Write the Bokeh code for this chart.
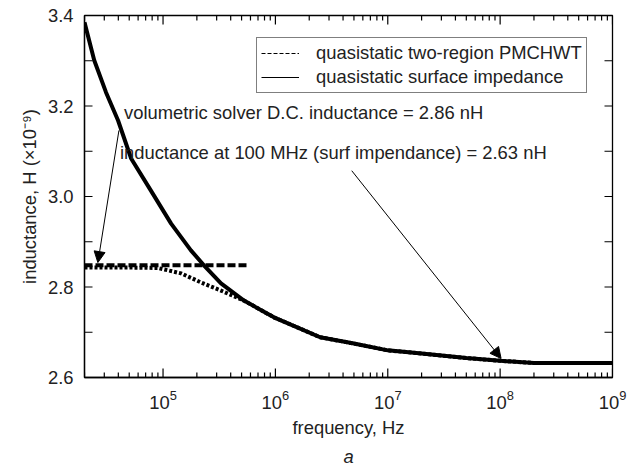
from bokeh.plotting import figure
from bokeh.models import (FixedTicker, PrintfTickFormatter, Legend, LegendItem, Label,
                          Arrow, NormalHead, Title)
from bokeh.embed import file_html
from bokeh.resources import INLINE

FONT = "Liberation Sans"
FS = "18.4px"
TXT = "#222222"

# surface impedance curve (solid)
surf_f = [2.0e4, 2.44e4, 3.11e4, 3.98e4, 5.2e4, 7.8e4, 1.18e5, 1.77e5, 2.31e5, 3.28e5,
          5.25e5, 9.7e5, 2.5e6, 5.0e6, 1.0e7, 2.0e7, 5.0e7, 1.0e8, 2.0e8, 1.0e9]
surf_L = [3.385, 3.301, 3.230, 3.168, 3.084, 3.013, 2.940, 2.881, 2.848, 2.808,
          2.770, 2.733, 2.689, 2.675, 2.660, 2.653, 2.643, 2.637, 2.632, 2.632]

# two-region PMCHWT curve (dotted)
pmc_f = [2.0e4, 5.0e4, 9.0e4, 1.45e5, 2.18e5, 3.28e5, 5.25e5, 9.7e5, 2.5e6, 5.0e6,
         1.0e7, 2.0e7, 5.0e7, 1.0e8, 2.0e8, 1.0e9]
pmc_L = [2.843, 2.843, 2.842, 2.830, 2.810, 2.792, 2.770, 2.733, 2.689, 2.675,
         2.660, 2.653, 2.643, 2.637, 2.632, 2.632]

# volumetric solver DC level (dashed)
dc_f = [2.0e4, 5.7e5]
dc_L = [2.848, 2.848]

legend_labels = ["quasistatic two-region PMCHWT", "quasistatic surface impedance"]
x_range = (2e4, 1e9)
y_range = (2.6, 3.4)
x_major = [1e5, 1e6, 1e7, 1e8, 1e9]
x_minor = [m * 10 ** e for e in range(4, 9) for m in range(2, 10)
           if x_range[0] <= m * 10 ** e < x_range[1]]
y_major = [2.6, 2.8, 3.0, 3.2, 3.4]
y_minor = [2.7, 2.9, 3.1, 3.3]

W, H = 640, 470
BL, BR, BT, BB = 84, 28, 15, 93
p = figure(width=W, height=H, x_axis_type="log", x_range=x_range, y_range=y_range,
           output_backend="svg", toolbar_location=None,
           min_border_left=BL, min_border_right=BR, min_border_top=BT, min_border_bottom=BB)
p.grid.visible = False
p.outline_line_color = "black"
p.outline_line_width = 1.3

# legend proxies (thin), hidden beneath the thick curve
r1 = p.line(surf_f, surf_L, line_color="black", line_width=1, line_dash="4 2")
r2 = p.line(surf_f, surf_L, line_color="black", line_width=1)

p.line(pmc_f, pmc_L, line_color="black", line_width=4, line_dash="3 2")
p.line(dc_f, dc_L, line_color="black", line_width=4, line_dash="8 3")
p.line(surf_f, surf_L, line_color="black", line_width=4)

leg = Legend(items=[LegendItem(label=legend_labels[0], renderers=[r1]),
                    LegendItem(label=legend_labels[1], renderers=[r2])],
             location=(172, 284), label_text_font=FONT, label_text_font_size=FS,
             label_text_color=TXT,
             border_line_color="black", border_line_width=1, padding=4, spacing=2,
             glyph_width=38, glyph_height=22, label_height=22, label_standoff=17,
             margin=0, background_fill_alpha=1)
p.add_layout(leg)

# inward ticks on all four sides (tick lengths converted from pixels to data units)
frame_w = W - BL - BR
frame_h = H - BT - BB
px_per_decade = frame_w / 4.69897
px_per_unit = frame_h / (y_range[1] - y_range[0])

def ticks_x(vals, length_px, y, direction):
    dy = direction * length_px / px_per_unit
    p.segment(x0=vals, y0=[y] * len(vals), x1=vals, y1=[y + dy] * len(vals),
              line_color="black", line_width=1.2)

def ticks_y(vals, length_px, x, direction):
    f = 10 ** (direction * length_px / px_per_decade)
    p.segment(x0=[x] * len(vals), y0=vals, x1=[x * f] * len(vals), y1=vals,
              line_color="black", line_width=1.2)

ticks_x(x_major, 9, y_range[0], 1)
ticks_x(x_minor, 5, y_range[0], 1)
ticks_x(x_major, 9, y_range[1], -1)
ticks_x(x_minor, 5, y_range[1], -1)
ticks_y(y_major, 8, x_range[0], 1)
ticks_y(y_minor, 8, x_range[0], 1)
ticks_y(y_major, 8, x_range[1], -1)
ticks_y(y_minor, 8, x_range[1], -1)

p.yaxis.ticker = FixedTicker(ticks=y_major, minor_ticks=y_minor)
p.yaxis.formatter = PrintfTickFormatter(format="%.1f")
p.xaxis.ticker = FixedTicker(ticks=x_major, minor_ticks=x_minor)
p.yaxis.axis_label = "inductance, H (×10⁻⁹)"
p.xaxis.axis_label = "frequency, Hz"
for ax in (p.xaxis[0], p.yaxis[0]):
    ax.axis_line_color = "black"
    ax.axis_line_width = 1.3
    ax.major_tick_line_color = None
    ax.minor_tick_line_color = None
    ax.major_tick_in = 0
    ax.major_tick_out = 0
    ax.minor_tick_in = 0
    ax.minor_tick_out = 0
    ax.major_label_text_font = FONT
    ax.major_label_text_font_size = FS
    ax.major_label_text_color = TXT
    ax.axis_label_text_font = FONT
    ax.axis_label_text_font_size = FS
    ax.axis_label_text_font_style = "normal"
    ax.axis_label_text_color = TXT
p.yaxis.major_label_standoff = 11
p.yaxis.axis_label_standoff = 5
p.xaxis.major_label_standoff = 12
p.xaxis.axis_label_standoff = 5

p.add_layout(Title(text="a", align="center", text_font=FONT, text_font_size=FS,
                   text_font_style="italic", text_color=TXT, standoff=6), "below")

p.add_layout(Label(x=4.49e4, y=3.186, text="volumetric solver D.C. inductance = 2.86 nH",
                   text_font=FONT, text_font_size=FS, text_baseline="middle", text_color=TXT))
p.add_layout(Label(x=4.13e4, y=3.097, text="inductance at 100 MHz (surf impendance) = 2.63 nH",
                   text_font=FONT, text_font_size=FS, text_baseline="middle", text_color=TXT))

p.add_layout(Arrow(x_start=4.05e4, y_start=3.146, x_end=2.63e4, y_end=2.854,
                   line_color="black", line_width=1,
                   end=NormalHead(size=11, fill_color="black", line_color="black")))
p.add_layout(Arrow(x_start=4.78e6, y_start=3.057, x_end=1.02e8, y_end=2.642,
                   line_color="black", line_width=1,
                   end=NormalHead(size=11, fill_color="black", line_color="black")))

open("out.html", "w").write(file_html(p, INLINE))
